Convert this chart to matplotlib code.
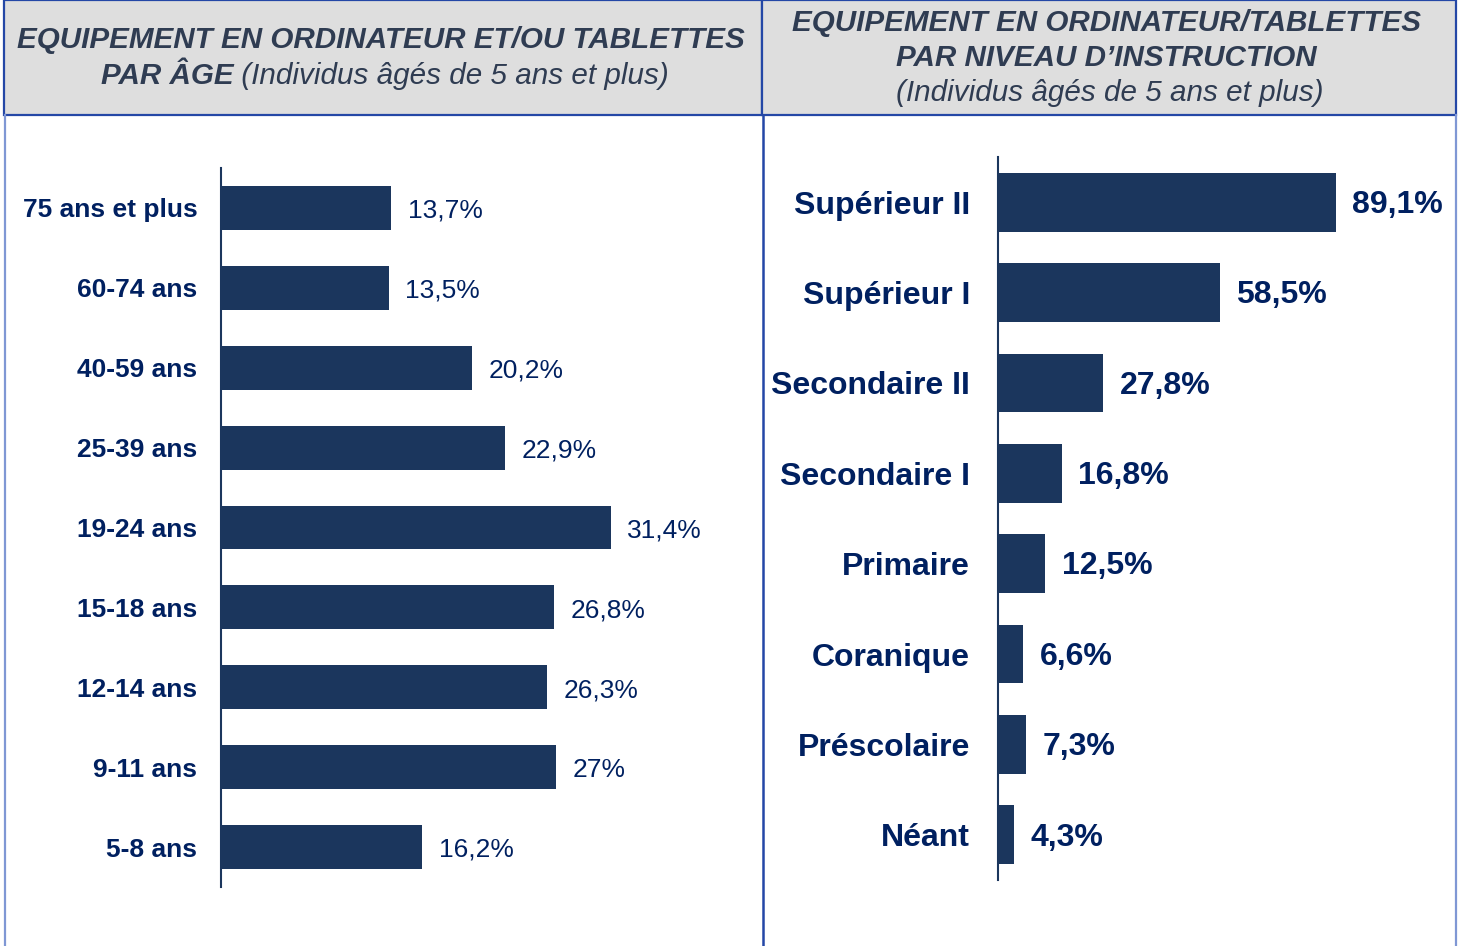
import matplotlib.pyplot as plt
from matplotlib.patches import Rectangle

plt.rcParams['font.family'] = ['Liberation Sans', 'DejaVu Sans']

# données
ages = ['75 ans et plus', '60-74 ans', '40-59 ans', '25-39 ans', '19-24 ans',
        '15-18 ans', '12-14 ans', '9-11 ans', '5-8 ans']
age_vals = [13.7, 13.5, 20.2, 22.9, 31.4, 26.8, 26.3, 27.0, 16.2]
age_txt = ['13,7%', '13,5%', '20,2%', '22,9%', '31,4%', '26,8%', '26,3%', '27%', '16,2%']

niveaux = ['Supérieur II', 'Supérieur I', 'Secondaire II', 'Secondaire I',
           'Primaire', 'Coranique', 'Préscolaire', 'Néant']
niv_vals = [89.1, 58.5, 27.8, 16.8, 12.5, 6.6, 7.3, 4.3]
niv_txt = ['89,1%', '58,5%', '27,8%', '16,8%', '12,5%', '6,6%', '7,3%', '4,3%']

W, H = 1459, 946
bar_col = '#1B365D'
lab_col = '#002060'
tit_col = '#2F3C52'

fig = plt.figure(figsize=(W / 100, H / 100), dpi=100)

# fond: cadres des en-têtes
bg = fig.add_axes([0, 0, 1, 1], zorder=0)
bg.set_xlim(0, W)
bg.set_ylim(H, 0)
bg.axis('off')
bg.add_patch(Rectangle((4, 0), 758, 115, facecolor='#DEDEDE', edgecolor='#2447A6', lw=1.6))
bg.add_patch(Rectangle((762, 0), 694, 115, facecolor='#DEDEDE', edgecolor='#2447A6', lw=1.6))
bg.plot([4.5, 4.5], [115, H], color='#7F97D4', lw=1.6)
bg.plot([763, 763], [115, H], color='#2447A6', lw=1.8)
bg.plot([1456, 1456], [115, H], color='#7F97D4', lw=1.6)

fs_t = 21.3
bg.text(381, 40, 'EQUIPEMENT EN ORDINATEUR ET/OU TABLETTES', ha='center', va='center',
        fontsize=fs_t, fontweight='bold', fontstyle='italic', color=tit_col)

# deuxième ligne à deux styles, centrée
r = fig.canvas.get_renderer()
t1 = bg.text(0, 76, 'PAR ÂGE', ha='left', va='center', fontsize=fs_t,
             fontweight='bold', fontstyle='italic', color=tit_col)
t2 = bg.text(0, 76, ' (Individus âgés de 5 ans et plus)', ha='left', va='center',
             fontsize=fs_t, fontstyle='italic', color=tit_col)
w1 = t1.get_window_extent(r).width
w2 = t2.get_window_extent(r).width
x0 = 385 - (w1 + w2) / 2
t1.set_x(x0)
t2.set_x(x0 + w1)

bg.text(1106, 23, 'EQUIPEMENT EN ORDINATEUR/TABLETTES', ha='center', va='center',
        fontsize=fs_t, fontweight='bold', fontstyle='italic', color=tit_col)
bg.text(1106, 58, 'PAR NIVEAU D\u2019INSTRUCTION', ha='center', va='center',
        fontsize=fs_t, fontweight='bold', fontstyle='italic', color=tit_col)
bg.text(1110, 93, '(Individus âgés de 5 ans et plus)', ha='center', va='center',
        fontsize=fs_t, fontstyle='italic', color=tit_col)


def panel(rect, cats, vals, txt, xmax, h, fs, lab_w, val_w, pad):
    ax = fig.add_axes(rect, zorder=1)
    ax.patch.set_alpha(0)
    y = range(len(cats))
    ax.barh(y, vals, height=h, color=bar_col)
    ax.set_ylim(len(cats) - 0.5, -0.5)
    ax.set_xlim(0, xmax)
    for s in ['top', 'right', 'bottom']:
        ax.spines[s].set_visible(False)
    ax.spines['left'].set_color(bar_col)
    ax.spines['left'].set_linewidth(1.5)
    ax.set_xticks([])
    ax.set_yticks(list(y))
    ax.set_yticklabels(cats, fontsize=fs, fontweight=lab_w, color=lab_col)
    ax.tick_params(axis='y', length=0, pad=pad)
    for i, v in enumerate(vals):
        ax.annotate(txt[i], (v, i), xytext=(12, -2), textcoords='offset points',
                    va='center', ha='left', fontsize=fs, fontweight=val_w, color=lab_col)
    return ax


panel([221 / W, 59 / H, 490 / W, 719 / H], ages, age_vals, age_txt,
      490 / 12.41, 0.55, 19, 'bold', 'normal', 17)
panel([998 / W, 66 / H, 440 / W, 723 / H], niveaux, niv_vals, niv_txt,
      440 / 3.79, 0.65, 23, 'bold', 'bold', 20)

fig.savefig('out.png', dpi=100)
